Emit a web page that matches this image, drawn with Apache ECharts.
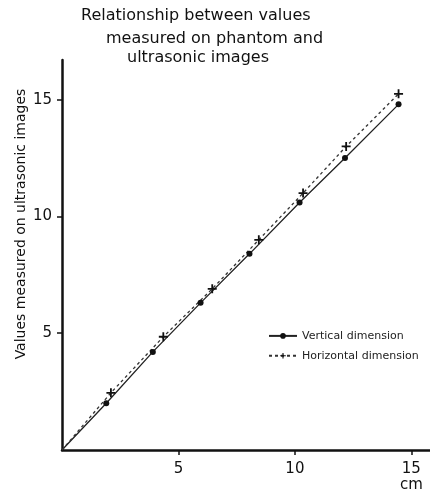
<!DOCTYPE html>
<html>
<head>
    <title>Phantom vs ultrasonic images</title>
    <script src="https://cdnjs.cloudflare.com/ajax/libs/echarts/6.0.0/echarts.min.js"></script>
    <style>
        html, body { margin: 0; padding: 0; background: #fff; }
        #chart { width: 430px; height: 495px; }
    </style>
</head>
<body>
    <div id="chart"></div>
    <script>
        // values (cm)
        var verticalX = [0, 1.9, 3.9, 5.95, 8.05, 10.2, 12.15, 14.45];
        var verticalY = [0, 2.0, 4.2, 6.3, 8.4, 10.6, 12.5, 14.8];
        var horizontalX = [0, 2.1, 4.35, 6.45, 8.45, 10.35, 12.2, 14.45];
        var horizontalY = [0, 2.45, 4.85, 6.9, 9.0, 11.0, 13.0, 15.25];
        var tickValues = [5, 10, 15];
        var titleLines = ['Relationship between values', 'measured on phantom and', 'ultrasonic images'];

        var font = 'DejaVu Sans';
        var plusPath = 'path://M4,0h2v4h4v2h-4v4h-2v-4h-4v-2h4z';

        function pairs(xs, ys) {
            return xs.map(function (x, i) { return [x, ys[i]]; });
        }
        // first point (origin) has no marker
        function withMarkers(list) {
            return list.map(function (p, i) {
                return i === 0 ? { value: p, symbol: 'none' } : { value: p };
            });
        }

        var chart = echarts.init(document.getElementById('chart'));
        chart.setOption({
            animation: false,
            backgroundColor: '#fff',
            title: [
                { text: titleLines[0], left: 81, top: 0 },
                { text: titleLines[1], left: 106, top: 23 },
                { text: titleLines[2], left: 127, top: 42 }
            ].map(function (t) {
                t.textStyle = { fontFamily: font, fontSize: 16, fontWeight: 'normal', color: '#111' };
                t.padding = 0;
                return t;
            }),
            legend: {
                orient: 'vertical',
                left: 268,
                top: 325,
                padding: 0,
                itemGap: -2,
                itemWidth: 28,
                itemHeight: 7,
                textStyle: { fontFamily: font, fontSize: 11, lineHeight: 12, color: '#222' },
                data: ['Vertical dimension', 'Horizontal dimension']
            },
            grid: { left: 62, right: 0, top: 60, bottom: 45, outerBoundsMode: 'none' },
            xAxis: {
                type: 'value',
                min: 0,
                max: 15.8,
                interval: 5,
                splitLine: { show: false },
                axisLine: { lineStyle: { color: '#111', width: 2.5 } },
                axisTick: { customValues: tickValues, length: 5, lineStyle: { color: '#111', width: 1.5 } },
                axisLabel: {
                    customValues: tickValues,
                    margin: 11,
                    fontFamily: font, fontSize: 15, color: '#111', lineHeight: 16,
                    formatter: function (v) { return v === 15 ? '15\ncm' : String(v); }
                }
            },
            yAxis: {
                type: 'value',
                min: 0,
                max: 16.7,
                interval: 5,
                name: 'Values measured on ultrasonic images',
                nameLocation: 'middle',
                nameGap: 27,
                nameMoveOverlap: false,
                nameTextStyle: { fontFamily: font, fontSize: 14, color: '#111', padding: [0, 0, 0, 62] },
                splitLine: { show: false },
                axisLine: { lineStyle: { color: '#111', width: 2.5 } },
                axisTick: { customValues: tickValues, length: 5, lineStyle: { color: '#111', width: 1.5 } },
                axisLabel: { customValues: tickValues, margin: 10, fontFamily: font, fontSize: 15, color: '#111' }
            },
            series: [
                {
                    name: 'Vertical dimension',
                    type: 'line',
                    data: withMarkers(pairs(verticalX, verticalY)),
                    symbol: 'circle',
                    symbolSize: 6,
                    itemStyle: { color: '#111' },
                    lineStyle: { color: '#222', width: 1.3, type: 'solid' }
                },
                {
                    name: 'Horizontal dimension',
                    type: 'line',
                    data: withMarkers(pairs(horizontalX, horizontalY)),
                    symbol: plusPath,
                    symbolSize: 9,
                    itemStyle: { color: '#111' },
                    lineStyle: { color: '#333', width: 1.3, type: [3, 3] }
                }
            ]
        });
    </script>
</body>
</html>
